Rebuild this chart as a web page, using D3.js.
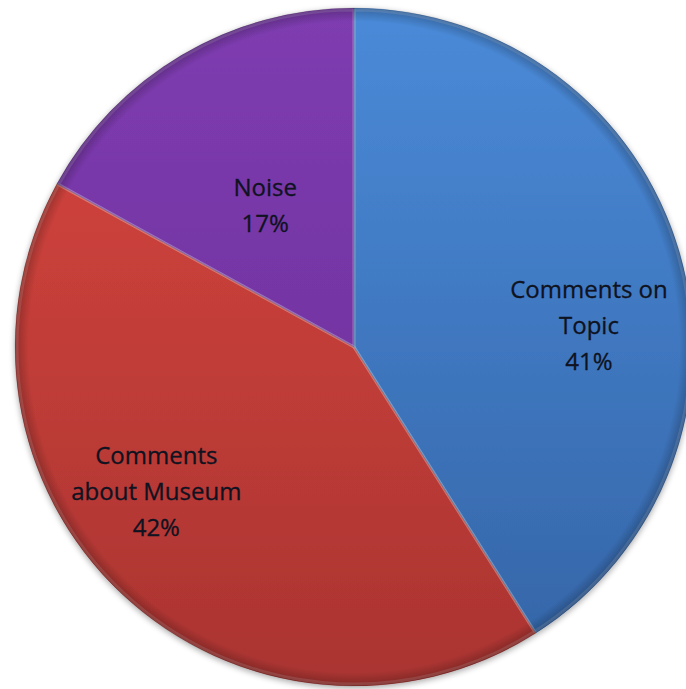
<!DOCTYPE html>
<html><head><meta charset="utf-8">
<script src="https://cdn.jsdelivr.net/npm/d3@7"></script>
<style>html,body{margin:0;padding:0;background:#fff;}svg{display:block;}</style>
</head><body>
<svg id="chart" width="686" height="689"></svg>
<script>
// ---- data ----
const categories = ["Comments on Topic", "Comments about Museum", "Noise"];
const values = [41, 42, 17];
const labelLines = [["Comments on", "Topic", "41%"], ["Comments", "about Museum", "42%"], ["Noise", "17%"]];
const topColors = ["#4a8ad8", "#d9463f", "#7e3cb0"];
const bottomColors = ["#3464a6", "#aa3431", "#6a2e96"];

// ---- layout ----
const W = 686, H = 689;
const cx = 354, cy = 347, R = 339;
const labelPos = [ {angle: 84.7, r: 236}, {angle: 233.8, r: 245}, {angle: 327.9, r: 167} ];
const lineH = 36, fontSize = 24;

const svg = d3.select("#chart");
const defs = svg.append("defs");

categories.forEach((c, i) => {
  const g = defs.append("linearGradient").attr("id", "grad" + i)
    .attr("gradientUnits", "userSpaceOnUse")
    .attr("x1", 0).attr("y1", -R).attr("x2", 0).attr("y2", R);
  g.append("stop").attr("offset", "0%").attr("stop-color", topColors[i]);
  g.append("stop").attr("offset", "100%").attr("stop-color", bottomColors[i]);
});
const rim2 = defs.append("radialGradient").attr("id", "rimLocal")
  .attr("cx", "50%").attr("cy", "50%").attr("r", "50%");
rim2.append("stop").attr("offset", "0%").attr("stop-color", "#000").attr("stop-opacity", 0);
rim2.append("stop").attr("offset", "96%").attr("stop-color", "#000").attr("stop-opacity", 0);
rim2.append("stop").attr("offset", "100%").attr("stop-color", "#000").attr("stop-opacity", 0.25);

const shadow = defs.append("filter").attr("id", "shadow").attr("x", "-10%").attr("y", "-10%").attr("width", "120%").attr("height", "120%");
shadow.append("feGaussianBlur").attr("in", "SourceAlpha").attr("stdDeviation", 3);
shadow.append("feOffset").attr("dx", 0).attr("dy", 2).attr("result", "b");
shadow.append("feComponentTransfer").append("feFuncA").attr("type", "linear").attr("slope", 0.35);
const fm = shadow.append("feMerge");
fm.append("feMergeNode");
fm.append("feMergeNode").attr("in", "SourceGraphic");

const pie = d3.pie().sort(null).value(d => d);
const arcs = pie(values);
const arc = d3.arc().innerRadius(0).outerRadius(R);

const g = svg.append("g").attr("transform", `translate(${cx},${cy})`);
const pieG = g.append("g").attr("filter", "url(#shadow)");

pieG.selectAll("path.slice").data(arcs).join("path")
  .attr("class", "slice")
  .attr("d", arc)
  .attr("fill", (d, i) => `url(#grad${i})`);

// bevel highlight along edges
pieG.selectAll("path.bevel").data(arcs).join("path")
  .attr("class", "bevel")
  .attr("d", d3.arc().innerRadius(0).outerRadius(R - 2))
  .attr("fill", "none")
  .attr("stroke", "#ffffff").attr("stroke-opacity", 0.16).attr("stroke-width", 3);

// dark separators
pieG.selectAll("path.sep").data(arcs).join("path")
  .attr("class", "sep")
  .attr("d", arc)
  .attr("fill", "none")
  .attr("stroke", "#000").attr("stroke-opacity", 0.12).attr("stroke-width", 1);

// rim shading
g.append("circle").attr("r", R).attr("fill", "url(#rimLocal)");

// labels
const labels = g.append("g").attr("font-family", "'Open Sans', sans-serif")
  .attr("font-size", fontSize).attr("fill", "#0f1220").attr("text-anchor", "middle")
  .attr("stroke", "#0f1220").attr("stroke-width", 0.3);
arcs.forEach((d, i) => {
  const a = labelPos[i].angle * Math.PI / 180;
  const x = Math.sin(a) * labelPos[i].r, y = -Math.cos(a) * labelPos[i].r;
  const lines = labelLines[i];
  const t = labels.append("text").attr("x", x).attr("y", y);
  lines.forEach((ln, j) => {
    t.append("tspan").attr("x", x)
      .attr("y", y + (j - (lines.length - 1) / 2) * lineH)
      .attr("dy", "0.35em").text(ln);
  });
});
</script>
</body></html>
